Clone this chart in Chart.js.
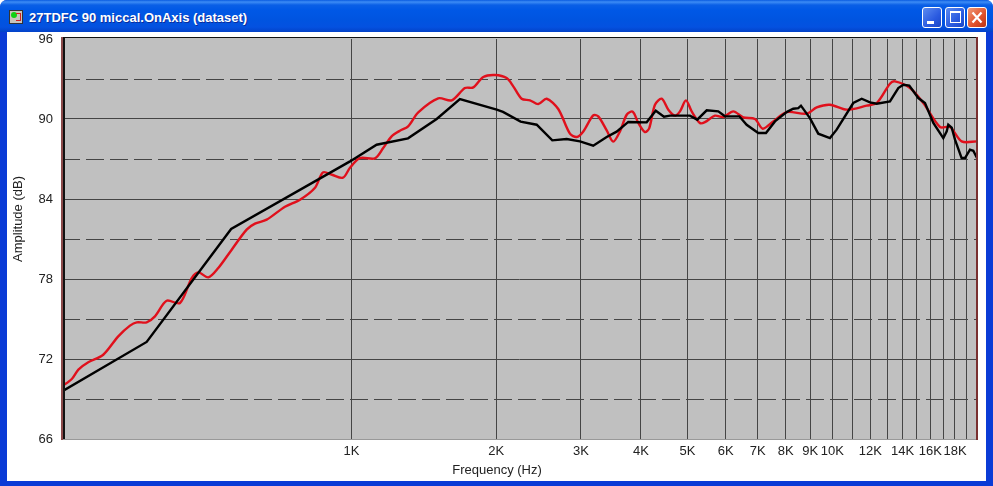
<!DOCTYPE html>
<html><head><meta charset="utf-8">
<script src="https://cdn.jsdelivr.net/npm/chart.js@4"></script>
<style>
html,body{margin:0;padding:0;background:#fff;overflow:hidden}
#win{position:absolute;left:0;top:0;width:993px;height:486px;overflow:hidden;background:#0a3bd6;border-radius:7px 7px 0 0}
#bar{position:absolute;left:0;top:0;width:993px;height:32px;background:linear-gradient(180deg,#0a5be0 0,#3d8cf5 2px,#0a5fe6 5px,#0058e6 10px,#0054e0 20px,#0451e0 27px,#0342c8 32px)}
#title{position:absolute;left:29px;top:10px;color:#fff;font:bold 13px "Liberation Sans",sans-serif;white-space:nowrap;text-shadow:1px 1px 0 #0a2c9c}
#icon{position:absolute;left:9px;top:10px;width:14px;height:14px;background:#c8c4bc;border:1px solid #333;box-sizing:border-box}
#icon i{position:absolute;left:1px;top:1px;width:6px;height:6px;border-radius:50%;background:#10d010}
#icon b{position:absolute;right:1px;top:2px;width:4px;height:6px;border:1px solid #d02020;border-left:0}
#client{position:absolute;left:7px;top:32px;width:979px;height:449px;background:#fff}
.btn{position:absolute;top:7px;width:20px;height:21px;box-sizing:border-box;border:1px solid #fff;border-radius:3px;background:linear-gradient(135deg,#5d8cf0,#2a5ae0 60%,#1a46c8)}
.btn.x{background:linear-gradient(135deg,#f09a78,#e0502a 60%,#b83414)}
.btn svg{position:absolute;left:0;top:0}
canvas{position:absolute;left:0;top:0}
</style></head><body>
<div id="win">
<div id="bar"></div>
<div id="client"></div>
<div id="icon"><i></i><b></b></div>
<div id="title">27TDFC 90 miccal.OnAxis (dataset)</div>
<div class="btn" style="left:922px"><svg width="18" height="19"><rect x="4" y="13" width="7" height="3" fill="#fff"/></svg></div>
<div class="btn" style="left:945px"><svg width="18" height="19"><rect x="4.5" y="4.5" width="10" height="10" fill="none" stroke="#fff"/><rect x="4" y="3" width="11" height="2" fill="#fff"/></svg></div>
<div class="btn x" style="left:967px"><svg width="18" height="19"><path d="M4.5 4.5L13.5 14.5M13.5 4.5L4.5 14.5" stroke="#fff" stroke-width="2.2"/></svg></div>
<div style="position:absolute;left:0;top:0;width:993px;height:486px"><canvas id="c" width="993" height="486"></canvas></div>
</div>
<script>
const frequencyLabels = {1000:'1K',2000:'2K',3000:'3K',4000:'4K',5000:'5K',6000:'6K',7000:'7K',8000:'8K',9000:'9K',10000:'10K',12000:'12K',14000:'14K',16000:'16K',18000:'18K'};
const gridFrequencies = [1000,2000,3000,4000,5000,6000,7000,8000,9000,10000,11000,12000,13000,14000,15000,16000,17000,18000,19000];
const amplitudeTicks = [66,69,72,75,78,81,84,87,90,93,96];
const amplitudeLabels = [66,72,78,84,90,96];

const blackFreq = [250,375,562,993,1128,1311,1504,1681,2005,2066,2248,2428,2616,2803,2987,3183,3395,3561,3765,4111,4294,4467,4597,5058,5238,5481,5794,5981,6408,6636,7016,7280,7600,8036,8296,8497,8607,8985,9352,9890,10212,11058,11514,11978,12372,13183,13720,14050,14460,15100,15590,16225,17020,17300,17430,17720,18000,18580,18880,19340,19650,20000];
const blackDb = [69.57,73.28,81.75,86.82,88.07,88.55,90,91.5,90.7,90.53,89.8,89.57,88.4,88.5,88.32,88,88.65,89.05,89.78,89.75,90.62,90.17,90.25,90.25,89.95,90.65,90.57,90.2,90.2,89.57,88.95,88.95,89.82,90.52,90.77,90.82,91,90.07,88.9,88.57,89.2,91.2,91.52,91.25,91.15,91.32,92.32,92.57,92.5,91.57,91.2,89.7,88.57,89.07,89.57,89.35,88.45,87.07,87.07,87.7,87.62,87.07];

const redFreq = [250,262,270.4,283.5,304.6,327.3,346.2,357.6,375,390.2,412.6,439.8,465.3,480.2,503.8,528.4,563.5,605.3,630,666.2,727.2,781.5,839.8,872.5,911,960,993,1041,1119,1164,1212,1261,1312,1377,1515,1616,1722,1792,1880,1988,2103,2170,2259,2351,2446,2547,2692,2847,2941,3035,3183,3260,3395,3503,3618,3736,3846,3950,4077,4163,4278,4418,4560,4708,4822,4962,5100,5306,5435,5702,5933,6224,6530,6906,7167,7539,8036,8847,9281,9890,10715,11790,12372,13183,13500,14510,15465,16750,17570,18580,20000];
const redDb = [69.95,70.5,71.2,71.75,72.32,73.7,74.5,74.75,74.75,75.2,76.37,76.2,78.07,78.5,78.12,78.82,80.2,81.7,82.15,82.45,83.42,83.95,84.85,86,85.82,85.6,86.35,87.07,87.05,87.82,88.7,89.12,89.45,90.5,91.55,91.4,92.32,92.37,93.15,93.3,93.07,92.45,91.52,91.4,91.12,91.52,90.75,88.9,88.65,89.07,90.27,90.2,89.15,88.3,89.07,90.32,90.55,89.7,89.02,89.32,91.07,91.52,90.7,90.25,90.57,91.4,90.57,89.7,89.77,90.25,90.15,90.57,90.12,90,89.27,89.82,90.52,90.4,90.87,91.07,90.7,91,91.2,92.65,92.82,92.32,91.2,89.4,89.4,88.32,88.32];

const xAxisTitle = 'Frequency (Hz)';
const yAxisTitle = 'Amplitude (dB)';
const font = '"Liberation Sans", Arial, sans-serif';
const pairs = (xs, ys) => xs.map((x, i) => ({x, y: ys[i]}));

const plotFrame = {
  id: 'plotFrame',
  beforeDraw(chart) {
    const {ctx, chartArea: a} = chart;
    ctx.save();
    ctx.fillStyle = '#c0c0c0';
    ctx.fillRect(a.left, 37, a.right - a.left, a.bottom - 37);
    ctx.restore();
  },
  afterDraw(chart) {
    const {ctx, chartArea: a} = chart;
    ctx.save();
    ctx.fillStyle = '#111';
    ctx.fillRect(a.left, 37, a.right - a.left, 1);
    ctx.fillRect(a.left + 1, 37, 2, a.bottom - 37);
    ctx.fillStyle = '#8c4a4a';
    ctx.fillRect(a.left - 1, 37, 2, a.bottom - 36);
    ctx.fillStyle = '#7a3030';
    ctx.fillRect(a.right - 1, 37, 2, a.bottom - 36);
    ctx.fillStyle = '#999';
    ctx.fillRect(a.left + 1, a.bottom, a.right - a.left - 2, 1);
    ctx.fillStyle = '#222';
    ctx.font = '13px ' + font;
    ctx.textAlign = 'center';
    ctx.textBaseline = 'middle';
    ctx.fillText(xAxisTitle, 497, 470);
    ctx.translate(18, 219);
    ctx.rotate(-Math.PI / 2);
    ctx.fillText(yAxisTitle, 0, 0);
    ctx.restore();
  }
};

new Chart(document.getElementById('c'), {
  type: 'line',
  data: { datasets: [
    { label: 'Black', data: pairs(blackFreq, blackDb), borderColor: '#000', borderWidth: 2.4, pointRadius: 0, tension: 0 },
    { label: 'Red', data: pairs(redFreq, redDb), borderColor: '#e0101c', borderWidth: 2.4, pointRadius: 0, tension: 0.3 }
  ]},
  plugins: [plotFrame],
  options: {
    responsive: false, animation: false, parsing: false,
    layout: { padding: { top: 39, right: 16, left: 0, bottom: 0 } },
    plugins: { legend: { display: false }, title: { display: false }, tooltip: { enabled: false } },
    scales: {
      x: {
        type: 'logarithmic', min: 250, max: 20000,
        afterBuildTicks(s) { s.ticks = gridFrequencies.map(value => ({value})); },
        afterFit(s) { s.height = 47; },
        grid: { color: '#454545', lineWidth: 1, drawTicks: false },
        border: { display: false },
        ticks: { autoSkip: false, maxRotation: 0, minRotation: 0, color: '#222', padding: 5, font: { family: font, size: 13 },
                 callback: v => frequencyLabels[v] || '' }
      },
      y: {
        min: 66, max: 96,
        afterBuildTicks(s) { s.ticks = amplitudeTicks.map(value => ({value})); },
        afterFit(s) { s.width = 62; },
        grid: { color: c => c.tick.value === 66 || c.tick.value === 96 ? 'rgba(0,0,0,0)' : '#454545', lineWidth: 1, drawTicks: false },
        border: { display: false, dash: c => (c.tick.value % 2 ? [18, 6] : []) },
        ticks: { autoSkip: false, color: '#222', padding: 9, font: { family: font, size: 13 },
                 callback: v => amplitudeLabels.includes(v) ? String(v) : '' }
      }
    }
  }
});
</script>
</body></html>
